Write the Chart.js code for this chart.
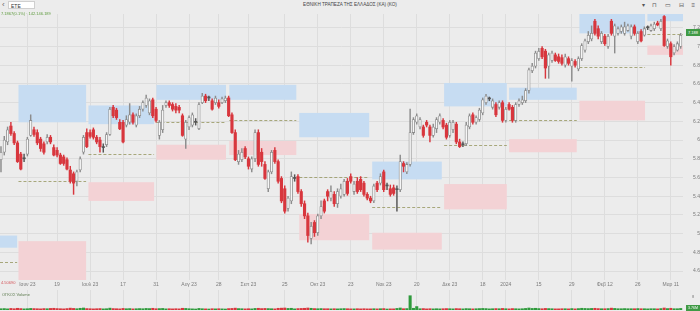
<!DOCTYPE html>
<html>
<head>
<meta charset="utf-8">
<script src="https://cdn.jsdelivr.net/npm/chart.js@4.4.1/dist/chart.umd.min.js"></script>
<style>
  html, body { margin: 0; padding: 0; background: #ececec; width: 700px; height: 311px; overflow: hidden; font-family: 'Liberation Sans', Arial, sans-serif; }
  .abs { position: absolute; white-space: nowrap; }
  #search { left: 8px; top: 1px; width: 27px; height: 8px; background: #fff; border: 1px solid #cfcfcf; font-size: 5px; line-height: 8px; color: #333; padding-left: 2px; box-sizing: border-box; }
  #back { left: 2px; top: 1px; font-size: 8px; line-height: 8px; color: #666; }
  #title { left: 0; width: 700px; top: 2px; text-align: center; font-size: 4.6px; color: #444; }
  #icons { right: 2px; top: 1px; font-size: 6px; color: #555; letter-spacing: 3px; }
  #quote { left: 1px; top: 11px; font-size: 4px; color: #5c9a3c; }
  #lastTag { left: 686px; top: 29px; width: 14px; height: 7px; background: #3f9a45; color: #fff; font-size: 4px; line-height: 7px; text-align: center; }
  #supLabel { left: 1px; top: 280px; font-size: 4px; color: #d4575c; }
  #volLabel { left: 2px; top: 292px; font-size: 4px; color: #5d7b4f; }
  #volAxis { left: 692px; top: 294px; font-size: 4px; color: #777; }
  #volTag { left: 686px; top: 305px; width: 14px; height: 6px; background: #3f9a45; color: #fff; font-size: 3.6px; line-height: 6px; text-align: center; }
  #priceChart { position: absolute; left: 0; top: 10px; }
  #volChart { position: absolute; left: 0; top: 290px; }
</style>
</head>
<body>
<div class="abs" id="back">‹</div>
<div class="abs" id="search">ΕΤΕ</div>
<div class="abs" id="title">ΕΘΝΙΚΗ ΤΡΑΠΕΖΑ ΤΗΣ ΕΛΛΑΔΟΣ (ΚΑ) (ΚΟ)</div>
<div class="abs" id="icons">▾ ⊓ ▭ ⊟ ≡</div>
<canvas id="priceChart" width="700" height="280"></canvas>
<canvas id="volChart" width="700" height="21"></canvas>
<div class="abs" id="quote">7.1867(0.1%) · 142.146.189</div>
<div class="abs" id="lastTag">7.188</div>
<div class="abs" id="supLabel">4.50690</div>
<div class="abs" id="volLabel">ΟΓΚΟΣ Volume</div>
<div class="abs" id="volAxis">8</div>
<div class="abs" id="volTag">3.76M</div>
<script>
'use strict';

// daily candles, one per trading day (index 0 = first day shown)
let opens = [
  5.79, 5.87, 5.98, 6.15, 6.07, 5.97, 5.85, 5.80, 5.85, 6.05, 6.11, 6.08, 6.01, 5.96, 5.98, 6.03, 5.92, 5.89, 5.84, 5.82,
  5.79, 5.68, 5.64, 5.56, 5.68, 5.87, 6.08, 6.08, 6.11, 6.03, 6.00, 5.92, 5.95, 6.06, 6.35, 6.32, 6.19, 6.19, 6.16, 6.19,
  6.27, 6.16, 6.26, 6.33, 6.37, 6.29, 6.43, 6.33, 6.05, 6.11, 6.37, 6.40, 6.38, 6.36, 6.35, 6.26, 6.01, 6.14, 6.16, 6.19,
  6.12, 6.40, 6.47, 6.45, 6.42, 6.40, 6.40, 6.40, 6.42, 6.45, 6.27, 6.08, 5.77, 5.79, 5.91, 5.80, 5.69, 5.80, 6.08, 5.87,
  5.74, 5.48, 5.66, 5.89, 5.77, 5.59, 5.48, 5.27, 5.35, 5.59, 5.61, 5.45, 5.32, 5.19, 4.95, 5.12, 5.01, 5.19, 5.35, 5.45,
  5.38, 5.42, 5.32, 5.40, 5.42, 5.56, 5.61, 5.45, 5.56, 5.58, 5.54, 5.42, 5.38, 5.35, 5.54, 5.54, 5.66, 5.51, 5.48, 5.49,
  5.47, 5.47, 5.75, 5.66, 5.74, 6.08, 6.19, 6.14, 6.14, 6.19, 6.14, 6.05, 6.12, 6.19, 6.21, 6.16, 6.05, 6.11, 6.17, 5.98,
  5.95, 5.96, 6.14, 6.27, 6.19, 6.22, 6.29, 6.40, 6.44, 6.35, 6.38, 6.35, 6.40, 6.21, 6.38, 6.35, 6.21, 6.38, 6.40, 6.42,
  6.53, 6.74, 6.79, 6.87, 6.98, 6.95, 6.79, 6.85, 6.91, 6.89, 6.88, 6.80, 6.87, 6.79, 6.84, 6.76, 6.87, 6.96, 7.05, 7.08,
  7.27, 7.19, 7.05, 7.11, 7.00, 7.27, 7.11, 7.14, 7.16, 7.14, 7.17, 7.11, 7.21, 7.05, 7.16, 7.12, 7.20, 7.17, 7.19, 7.25,
  7.19, 7.32, 7.00, 7.03, 6.93, 6.96, 7.00
];
let highs = [
  5.93, 6.04, 6.14, 6.19, 6.09, 5.99, 5.87, 5.85, 6.03, 6.27, 6.14, 6.11, 6.03, 5.98, 6.06, 6.05, 5.95, 5.92, 5.86, 5.84,
  5.81, 5.72, 5.66, 5.68, 5.82, 6.05, 6.12, 6.11, 6.13, 6.05, 6.03, 5.96, 6.08, 6.35, 6.37, 6.34, 6.22, 6.21, 6.26, 6.39,
  6.29, 6.28, 6.36, 6.42, 6.48, 6.44, 6.45, 6.35, 6.21, 6.37, 6.42, 6.42, 6.40, 6.39, 6.37, 6.28, 6.21, 6.26, 6.29, 6.23,
  6.40, 6.50, 6.49, 6.47, 6.44, 6.47, 6.43, 6.46, 6.47, 6.47, 6.29, 6.11, 5.89, 5.91, 5.93, 5.82, 5.82, 6.11, 6.11, 5.91,
  5.77, 5.68, 5.89, 5.92, 5.79, 5.61, 5.51, 5.40, 5.66, 5.63, 5.63, 5.47, 5.35, 5.22, 5.12, 5.14, 5.21, 5.35, 5.37, 5.47,
  5.51, 5.45, 5.48, 5.53, 5.58, 5.59, 5.64, 5.56, 5.60, 5.61, 5.56, 5.44, 5.40, 5.53, 5.56, 5.64, 5.68, 5.54, 5.52, 5.52,
  5.51, 5.84, 5.77, 5.76, 6.33, 6.24, 6.28, 6.24, 6.16, 6.21, 6.16, 6.17, 6.24, 6.28, 6.23, 6.18, 6.21, 6.21, 6.19, 6.01,
  5.98, 6.19, 6.28, 6.29, 6.26, 6.34, 6.45, 6.49, 6.46, 6.44, 6.40, 6.42, 6.42, 6.35, 6.40, 6.37, 6.40, 6.44, 6.47, 6.55,
  6.77, 6.82, 6.95, 6.98, 7.00, 6.97, 6.93, 6.95, 6.93, 6.92, 6.91, 6.92, 6.89, 6.87, 6.86, 6.89, 7.03, 7.08, 7.16, 7.22,
  7.29, 7.22, 7.16, 7.13, 7.13, 7.29, 7.24, 7.21, 7.23, 7.26, 7.24, 7.23, 7.23, 7.16, 7.18, 7.21, 7.22, 7.24, 7.26, 7.27,
  7.29, 7.33, 7.08, 7.05, 7.02, 7.05, 7.14
];
let lows = [
  5.66, 5.84, 5.95, 6.05, 5.95, 5.76, 5.68, 5.77, 5.83, 6.04, 6.04, 5.95, 5.88, 5.85, 5.96, 5.96, 5.83, 5.82, 5.74, 5.73,
  5.68, 5.54, 5.42, 5.51, 5.66, 5.85, 5.92, 6.02, 6.01, 5.96, 5.87, 5.87, 5.93, 6.05, 6.24, 6.22, 6.11, 5.97, 6.14, 6.17,
  6.17, 6.14, 6.24, 6.31, 6.35, 6.27, 6.24, 6.19, 6.01, 6.08, 6.35, 6.35, 6.31, 6.29, 6.29, 6.04, 5.91, 6.11, 6.14, 6.16,
  6.11, 6.39, 6.40, 6.42, 6.32, 6.38, 6.34, 6.39, 6.40, 6.25, 6.07, 5.78, 5.74, 5.77, 5.80, 5.69, 5.66, 5.77, 5.72, 5.72,
  5.58, 5.45, 5.64, 5.75, 5.54, 5.33, 5.22, 5.24, 5.32, 5.56, 5.43, 5.29, 5.16, 4.91, 4.89, 4.97, 4.98, 5.16, 5.22, 5.35,
  5.35, 5.29, 5.28, 5.38, 5.40, 5.41, 5.54, 5.42, 5.43, 5.45, 5.40, 5.36, 5.33, 5.33, 5.45, 5.52, 5.45, 5.47, 5.40, 5.41,
  5.24, 5.45, 5.66, 5.64, 5.72, 6.06, 6.17, 6.12, 6.03, 6.14, 5.98, 6.03, 6.08, 6.17, 6.12, 6.01, 6.03, 6.08, 5.96, 5.92,
  5.93, 5.94, 6.12, 6.17, 6.17, 6.20, 6.27, 6.38, 6.42, 6.33, 6.25, 6.33, 6.19, 6.19, 6.32, 6.19, 6.19, 6.36, 6.38, 6.40,
  6.50, 6.72, 6.77, 6.85, 6.87, 6.66, 6.66, 6.83, 6.84, 6.82, 6.80, 6.78, 6.80, 6.63, 6.78, 6.74, 6.85, 6.94, 7.03, 7.06,
  7.12, 7.08, 7.03, 7.01, 6.98, 7.12, 6.93, 7.12, 7.14, 7.12, 7.16, 7.08, 7.12, 7.03, 7.05, 7.11, 7.18, 7.16, 7.17, 7.22,
  7.17, 7.00, 6.98, 6.80, 6.91, 6.95, 6.98
];
let closes = [
  5.87, 6.00, 6.11, 6.07, 5.97, 5.77, 5.69, 5.80, 6.01, 6.21, 6.06, 5.97, 5.91, 5.87, 6.03, 5.98, 5.84, 5.84, 5.75, 5.75,
  5.69, 5.56, 5.54, 5.66, 5.80, 6.03, 5.93, 6.04, 6.03, 5.98, 5.93, 5.92, 6.06, 6.33, 6.26, 6.24, 6.12, 5.98, 6.22, 6.27,
  6.19, 6.26, 6.33, 6.40, 6.45, 6.42, 6.26, 6.21, 6.19, 6.32, 6.40, 6.37, 6.33, 6.32, 6.32, 6.05, 6.19, 6.24, 6.27, 6.19,
  6.38, 6.47, 6.42, 6.45, 6.33, 6.45, 6.36, 6.44, 6.45, 6.26, 6.08, 5.79, 5.85, 5.87, 5.82, 5.72, 5.80, 6.08, 5.74, 5.77,
  5.59, 5.66, 5.87, 5.77, 5.56, 5.35, 5.24, 5.38, 5.61, 5.59, 5.45, 5.32, 5.19, 4.98, 5.08, 5.01, 5.19, 5.29, 5.24, 5.40,
  5.45, 5.32, 5.45, 5.48, 5.56, 5.43, 5.56, 5.53, 5.45, 5.47, 5.42, 5.38, 5.35, 5.51, 5.47, 5.61, 5.47, 5.51, 5.42, 5.43,
  5.47, 5.77, 5.72, 5.74, 6.08, 6.22, 6.26, 6.22, 6.05, 6.16, 6.05, 6.14, 6.22, 6.26, 6.14, 6.03, 6.19, 6.19, 5.98, 5.93,
  5.95, 6.16, 6.26, 6.19, 6.24, 6.32, 6.43, 6.47, 6.44, 6.42, 6.27, 6.40, 6.21, 6.33, 6.33, 6.21, 6.38, 6.42, 6.43, 6.53,
  6.75, 6.79, 6.93, 6.95, 6.89, 6.77, 6.91, 6.93, 6.85, 6.84, 6.82, 6.89, 6.82, 6.85, 6.80, 6.87, 7.01, 7.06, 7.12, 7.14,
  7.14, 7.11, 7.14, 7.03, 7.11, 7.14, 7.22, 7.19, 7.21, 7.21, 7.22, 7.21, 7.14, 7.14, 7.06, 7.19, 7.20, 7.22, 7.24, 7.23,
  7.27, 7.01, 7.06, 6.89, 7.00, 7.03, 7.12
];
let volumes = [
  9, 10, 8, 11, 9, 12, 10, 8, 9, 11, 10, 9, 8, 10, 9, 11, 12, 10, 9, 8,
  10, 13, 11, 9, 12, 14, 10, 9, 8, 9, 10, 8, 9, 13, 10, 9, 8, 11, 9, 10,
  8, 9, 10, 9, 11, 10, 12, 9, 10, 11, 8, 9, 8, 9, 8, 12, 11, 9, 8, 7,
  11, 9, 8, 7, 9, 8, 9, 8, 7, 10, 11, 13, 10, 9, 8, 9, 8, 11, 12, 10,
  11, 10, 9, 8, 12, 13, 14, 11, 12, 8, 10, 11, 12, 14, 12, 10, 9, 10, 9, 9,
  8, 9, 8, 9, 10, 9, 8, 8, 9, 8, 9, 8, 8, 9, 8, 9, 10, 7, 8, 8,
  11, 14, 9, 10, 100, 12, 24, 9, 10, 8, 9, 8, 9, 8, 9, 10, 9, 8, 10, 9,
  8, 10, 9, 8, 9, 10, 11, 10, 8, 9, 10, 9, 11, 9, 8, 10, 9, 8, 9, 11,
  14, 11, 12, 10, 9, 11, 10, 9, 8, 8, 9, 9, 8, 10, 8, 10, 12, 11, 10, 11,
  12, 10, 9, 9, 10, 13, 11, 9, 9, 10, 9, 9, 9, 10, 9, 9, 8, 9, 9, 8,
  10, 14, 10, 12, 9, 9, 11
];

// x axis: trading-day index of each labelled Monday, and its label
let xTickIdx = [8, 17, 27, 37, 47, 57, 66, 75, 86, 96, 106, 116, 126, 136, 146, 153, 163, 173, 183, 193, 203];
let xTickLabels = ['Ιουν 23', '19', 'Ιουλ 23', '17', '31', 'Αυγ 23', '28', 'Σεπ 23', '25', 'Οκτ 23', '23',
  'Νοε 23', '20', 'Δεκ 23', '18', '2024', '15', '29', 'Φεβ 12', '26', 'Μαρ 11'];
let yTickVals = [4.6, 4.8, 5, 5.2, 5.4, 5.6, 5.8, 6, 6.2, 6.4, 6.6, 6.8, 7, 7.2];

// monthly zones: resistance (blue), support (pink), pivot (dashed)
let zoneFrom = [-0.3, 5.3, 26.5, 47.1, 69.2, 90.4, 112.5, 134.3, 154.0, 175.3, 195.9];
let zoneTo = [4.9, 25.8, 46.4, 68.2, 89.5, 111.6, 133.6, 153.3, 174.5, 195.2, 206.7];
let blueTop = [4.98, 6.59, 6.37, 6.59, 6.59, 6.29, 5.77, 6.61, 6.56, 7.35, 7.35];
let blueBot = [4.85, 6.19, 6.17, 6.43, 6.43, 6.03, 5.58, 6.36, 6.43, 7.14, 7.27];
let pinkTop = [4.45, 4.92, 5.55, 5.95, 5.99, 5.21, 5.01, 5.53, 6.01, 6.42, 7.01];
let pinkBot = [4.30, 4.505, 5.35, 5.79, 5.84, 4.93, 4.83, 5.26, 5.87, 6.21, 6.91];
let pivots = [4.70, 5.56, 5.85, 6.19, 6.21, 5.61, 5.29, 5.95, 6.21, 6.78, 7.13];

const UP_FILL = '#f6f6f6';
const UP_LINE = '#8c8c8c';
const DOWN = '#d8363d';
const DOJI = '#555555';
const GRID = '#dddddd';

function candleKind(i) {
  if (closes[i] === opens[i]) return 'doji';
  return closes[i] > opens[i] ? 'up' : 'down';
}

let bodyFill = [], bodyLine = [], bodyBorder = [], wickColor = [], volColor = [];
for (let i = 0; i < opens.length; i++) {
  let k = candleKind(i);
  bodyFill.push(k === 'up' ? UP_FILL : (k === 'down' ? DOWN : DOJI));
  bodyLine.push(k === 'up' ? UP_LINE : (k === 'down' ? DOWN : DOJI));
  bodyBorder.push(k === 'up' ? 0.8 : 0);
  wickColor.push(k === 'up' ? UP_LINE : (k === 'down' ? DOWN : DOJI));
  volColor.push(k === 'down' ? '#d8363d' : '#2f9a3c');
}

let bodyData = opens.map((o, i) => ({ x: i, y: [o, closes[i]] }));
let wickData = lows.map((l, i) => ({ x: i, y: [l, highs[i]] }));
let volData = volumes.map((v, i) => ({ x: i, y: v }));

const zonePlugin = {
  id: 'zones',
  beforeDatasetsDraw(chart) {
    const { ctx, chartArea, scales } = chart;
    const x = scales.x, y = scales.y;
    ctx.save();
    ctx.beginPath();
    ctx.rect(chartArea.left, chartArea.top, chartArea.width, chartArea.height);
    ctx.clip();
    for (let i = 0; i < zoneFrom.length; i++) {
      let x1 = x.getPixelForValue(zoneFrom[i]);
      let x2 = x.getPixelForValue(zoneTo[i]);
      let bt = y.getPixelForValue(blueTop[i]), bb = y.getPixelForValue(blueBot[i]);
      ctx.fillStyle = '#c6dcf2';
      ctx.fillRect(x1, bt, x2 - x1, bb - bt);
      let pt = y.getPixelForValue(pinkTop[i]), pb = y.getPixelForValue(pinkBot[i]);
      ctx.fillStyle = '#f3d2d5';
      ctx.fillRect(x1, pt, x2 - x1, pb - pt);
      let py = Math.round(y.getPixelForValue(pivots[i])) + 0.5;
      ctx.strokeStyle = 'rgba(150,150,95,0.8)';
      ctx.lineWidth = 1;
      ctx.setLineDash([3, 2]);
      ctx.beginPath();
      ctx.moveTo(x1, py);
      ctx.lineTo(x2, py);
      ctx.stroke();
    }
    ctx.restore();
  }
};

let tickFont = { family: "'Liberation Sans', Arial, sans-serif", size: 5 };

let priceConfig = {
  type: 'bar',
  data: {
    datasets: [
      {
        label: 'body',
        data: bodyData,
        backgroundColor: bodyFill,
        borderColor: bodyLine,
        borderWidth: bodyBorder,
        borderSkipped: false,
        barThickness: 2.5,
        minBarLength: 1,
        grouped: false,
        order: 0
      },
      {
        label: 'wick',
        data: wickData,
        backgroundColor: wickColor,
        borderWidth: 0,
        barThickness: 0.8,
        grouped: false,
        order: 1
      }
    ]
  },
  options: {
    responsive: false,
    animation: false,
    devicePixelRatio: 1,
    layout: { padding: 0 },
    plugins: { legend: { display: false }, tooltip: { enabled: false } },
    scales: {
      x: {
        type: 'linear',
        offset: false,
        min: -0.3,
        max: 206.7,
        afterBuildTicks: (s) => { s.ticks = xTickIdx.map(v => ({ value: v })); },
        afterFit: (s) => { s.height = 10; },
        ticks: {
          autoSkip: false,
          maxRotation: 0,
          font: tickFont,
          color: '#7a7a7a',
          padding: 2,
          callback: (v, i) => xTickLabels[i]
        },
        grid: { color: GRID, drawTicks: false, offset: false },
        border: { display: false }
      },
      y: {
        position: 'right',
        min: 4.505,
        max: 7.347,
        afterBuildTicks: (s) => { s.ticks = yTickVals.map(v => ({ value: v })); },
        afterFit: (s) => { s.width = 17; },
        ticks: {
          font: tickFont,
          color: '#7a7a7a',
          padding: 1,
          crossAlign: 'far',
          callback: (v) => String(Number(v.toFixed(1)))
        },
        grid: { color: GRID, drawTicks: false },
        border: { display: false }
      }
    }
  },
  plugins: [zonePlugin]
};
new Chart(document.getElementById('priceChart'), priceConfig);

let volConfig = {
  type: 'bar',
  data: {
    datasets: [{
      label: 'Volume',
      data: volData,
      backgroundColor: volColor,
      barThickness: 2.4,
      borderWidth: 0
    }]
  },
  options: {
    responsive: false,
    animation: false,
    devicePixelRatio: 1,
    layout: { padding: { right: 17, bottom: 1 } },
    plugins: { legend: { display: false }, tooltip: { enabled: false } },
    scales: {
      x: {
        type: 'linear',
        offset: false,
        min: -0.3,
        max: 206.7,
        afterBuildTicks: (s) => { s.ticks = xTickIdx.map(v => ({ value: v })); },
        afterFit: (s) => { s.height = 0; },
        ticks: { display: false },
        grid: { color: GRID, drawTicks: false, offset: false },
        border: { display: false }
      },
      y: { display: false, min: 0, max: 140 }
    }
  }
};
new Chart(document.getElementById('volChart'), volConfig);
</script>
</body>
</html>
